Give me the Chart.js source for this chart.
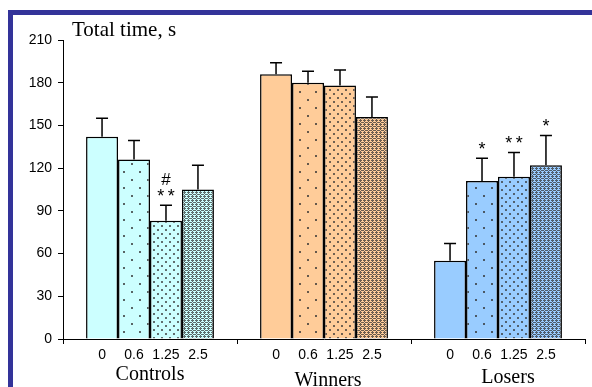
<!DOCTYPE html>
<html lang="en">
<head>
  <meta charset="UTF-8">
  <title>Total time</title>
  <script src="https://cdn.jsdelivr.net/npm/chart.js"></script>
  <style>
    body {
      margin: 0;
      background: #fff;
      overflow: hidden;
    }
    .frame {
      position: absolute;
      left: 8px;
      top: 10px;
      width: 600px;
      height: 400px;
      border-left: 5px solid #333399;
      border-top: 5px solid #333399;
      pointer-events: none;
    }
    canvas {
      position: absolute;
      left: 0;
      top: 0;
    }
  </style>
</head>
<body>
  <canvas id="chart" width="592" height="387"></canvas>
  <div class="frame"></div>

  <script>
    // groups and doses
    const groups = ['Controls', 'Winners', 'Losers'];
    const doses = ['0', '0.6', '1.25', '2.5'];

    // mean total time, s
    const controlsMean = [142, 126, 83, 105];
    const winnersMean = [186, 180, 178, 156];
    const losersMean = [55, 111, 114, 122];

    // error (upper only)
    const controlsErr = [13, 13.5, 11, 17];
    const winnersErr = [8, 8, 11, 14];
    const losersErr = [12, 16, 17, 21];

    // significance marks, listed bottom to top
    const controlsMarks = [[], [], ['**', '#'], []];
    const winnersMarks = [[], [], [], []];
    const losersMarks = [[], ['*'], ['**'], ['*']];

    const yTicks = [0, 30, 60, 90, 120, 150, 180, 210];

    const groupColors = ['#CCFFFF', '#FFCC99', '#99CCFF'];
    const means = [controlsMean, winnersMean, losersMean];
    const errs = [controlsErr, winnersErr, losersErr];
    const marks = [controlsMarks, winnersMarks, losersMarks];

    // fill patterns for each dose
    function makePattern(base, kind) {
      if (kind === 0) return base;
      const c = document.createElement('canvas');
      const size = kind === 1 ? 16 : kind === 2 ? 8 : 4;
      c.width = size;
      c.height = size;
      const g = c.getContext('2d');
      g.fillStyle = base;
      g.fillRect(0, 0, size, size);
      if (kind === 1) {
        g.fillStyle = 'rgba(50,50,50,0.75)';
        g.fillRect(3, 3, 2, 2);
        g.fillRect(11, 11, 2, 2);
      } else if (kind === 2) {
        g.fillStyle = 'rgba(50,50,50,0.7)';
        g.fillRect(1, 1, 2, 2);
        g.fillRect(5, 5, 2, 2);
      } else {
        // dark lattice with light crosses
        g.fillStyle = 'rgba(50,50,50,0.72)';
        [[0, 0], [1, 0], [3, 0], [0, 1], [0, 3], [2, 2], [1, 2], [3, 2]].forEach(p => {
          g.fillRect(p[0], p[1], 1, 1);
        });
      }
      return g.createPattern(c, 'repeat');
    }

    const datasets = doses.map((d, i) => ({
      label: d,
      data: means.map(m => m[i]),
      backgroundColor: groupColors.map(col => makePattern(col, i)),
      borderColor: '#000',
      borderWidth: 1.5,
      categoryPercentage: 0.735,
      barPercentage: 1
    }));

    const extras = {
      id: 'extras',
      afterDatasetsDraw(chart) {
        const ctx = chart.ctx;
        const y = chart.scales.y;
        const x = chart.scales.x;
        ctx.save();
        ctx.strokeStyle = '#000';
        ctx.fillStyle = '#000';
        ctx.lineWidth = 1.5;
        ctx.textAlign = 'center';

        chart.data.datasets.forEach((ds, i) => {
          const meta = chart.getDatasetMeta(i);
          meta.data.forEach((bar, g) => {
            const top = y.getPixelForValue(means[g][i]);
            const errTop = y.getPixelForValue(means[g][i] + errs[g][i]);
            // error bar
            ctx.beginPath();
            ctx.moveTo(bar.x, top);
            ctx.lineTo(bar.x, errTop);
            ctx.moveTo(bar.x - 6, errTop);
            ctx.lineTo(bar.x + 6, errTop);
            ctx.stroke();

            // marks
            marks[g][i].forEach((m, k) => {
              if (m === '#') {
                ctx.font = '17px "Liberation Sans", Arial, sans-serif';
                ctx.fillText(m, bar.x, errTop - 3 - k * 17);
              } else {
                ctx.font = '18px "Liberation Sans", Arial, sans-serif';
                ctx.fillText(m.split('').join('\u2009'), bar.x, errTop - 3 - k * 17);
              }
            });

            // dose label under bar
            ctx.font = '14px "Liberation Sans", Arial, sans-serif';
            ctx.fillText(doses[i], bar.x, 359);
          });
        });

        // group names
        ctx.font = '20px "Liberation Serif", "Times New Roman", serif';
        const nameY = [380, 386, 383];
        const nameDx = [0, 4, 10];
        groups.forEach((name, g) => {
          ctx.fillText(name, x.getPixelForValue(g) + nameDx[g], nameY[g]);
        });

        // axis title
        ctx.textAlign = 'left';
        ctx.font = '21px "Liberation Serif", "Times New Roman", serif';
        ctx.fillText('Total time, s', 72, 36);
        ctx.restore();
      }
    };

    new Chart(document.getElementById('chart'), {
      type: 'bar',
      data: { labels: groups, datasets: datasets },
      options: {
        responsive: false,
        animation: false,
        layout: { padding: { top: 40, right: 7, left: 0, bottom: 0 } },
        plugins: {
          legend: { display: false },
          tooltip: { enabled: false }
        },
        scales: {
          x: {
            offset: true,
            afterFit: s => { s.height = 48; },
            border: { color: '#000', width: 1 },
            grid: {
              offset: true,
              drawOnChartArea: false,
              drawTicks: true,
              tickLength: 5,
              color: '#000'
            },
            ticks: { display: false }
          },
          y: {
            min: 0,
            max: 210,
            afterFit: s => { s.width = 63; },
            afterBuildTicks: s => { s.ticks = yTicks.map(v => ({ value: v })); },
            border: { color: '#000', width: 1 },
            grid: {
              drawOnChartArea: false,
              drawTicks: true,
              tickLength: 5,
              color: '#000'
            },
            ticks: {
              padding: 6,
              color: '#000',
              font: { family: '"Liberation Sans", Arial, sans-serif', size: 14 }
            }
          }
        }
      },
      plugins: [extras]
    });
  </script>
</body>
</html>
